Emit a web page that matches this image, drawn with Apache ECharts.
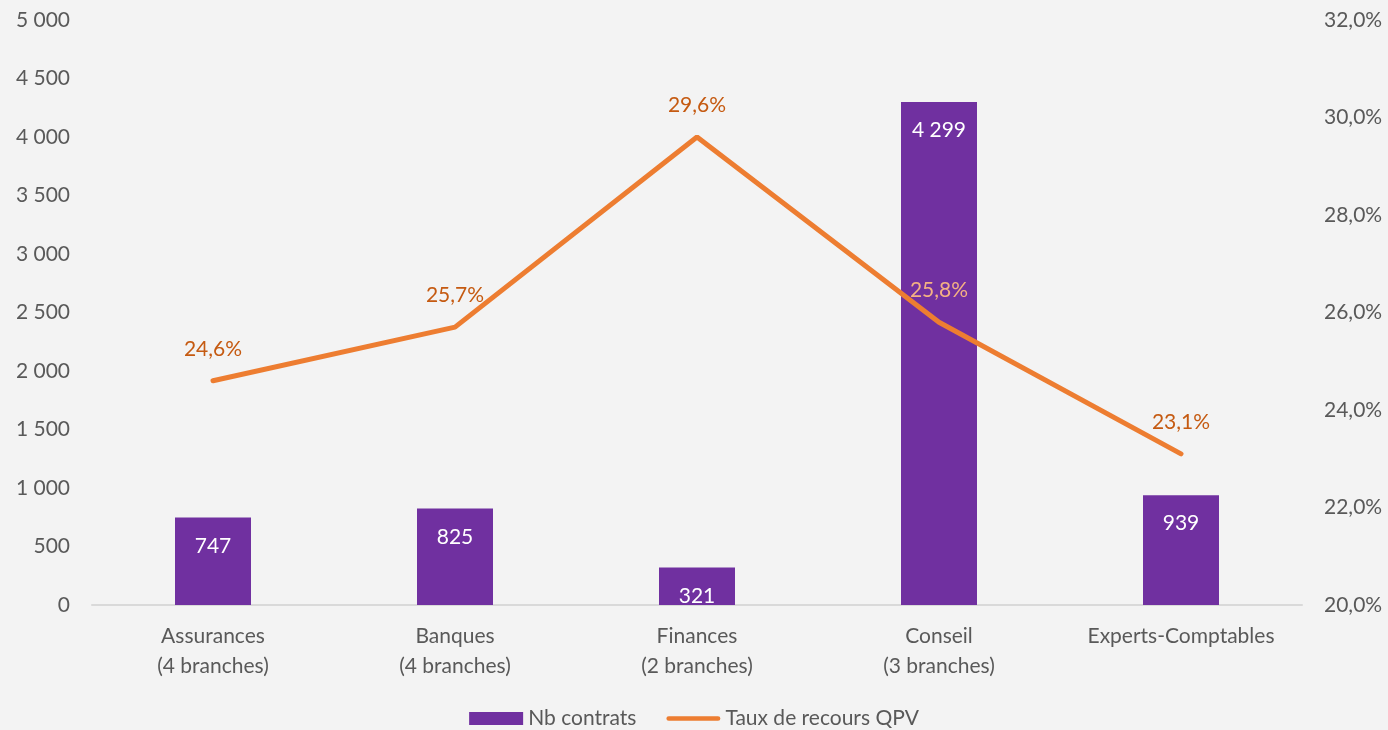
<!DOCTYPE html>
<html>
<head>
<meta charset="utf-8">
<script src="https://cdn.jsdelivr.net/npm/echarts@6/dist/echarts.min.js"></script>
<style>
  html, body { margin: 0; padding: 0; background: #f3f3f3; }
  #chart { width: 1388px; height: 730px; }
</style>
</head>
<body>
<div id="chart"></div>
<script>
const categories = ['Assurances\n(4 branches)', 'Banques\n(4 branches)', 'Finances\n(2 branches)', 'Conseil\n(3 branches)', 'Experts-Comptables']
const nbContrats = [747, 825, 321, 4299, 939]
const tauxQPV = [24.6, 25.7, 29.6, 25.8, 23.1]

const font = 'Lato, "Open Sans", sans-serif'
const fs = 21
const fmtNum = (v) => String(v).replace(/\B(?=(\d{3})+(?!\d))/g, ' ')
const fmtPct = (v) => v.toFixed(1).replace('.', ',') + '%'

// trait arrondi pour la légende de la courbe
const lineIcon = 'path://M0,0 L0.01,0 Z M2.5,4 L54.5,4 A2.5,2.5 0 0 1 54.5,9 L2.5,9 A2.5,2.5 0 0 1 2.5,4 Z M0,13 L0.01,13 Z'

const chart = echarts.init(document.getElementById('chart'))
chart.setOption({
  backgroundColor: '#f3f3f3',
  textStyle: { fontFamily: font },
  grid: { left: 92, right: 86, top: 20, bottom: 125 },
  legend: {
    bottom: -4,
    itemGap: 30,
    itemWidth: 54,
    itemHeight: 13,
    textStyle: { color: '#595959', fontSize: fs, fontFamily: font },
    data: [
      { name: 'Nb contrats', icon: 'rect' },
      { name: 'Taux de recours QPV', icon: lineIcon, itemStyle: { color: '#ed7d31', borderWidth: 0 } }
    ]
  },
  xAxis: {
    type: 'category',
    data: categories,
    axisLine: { lineStyle: { color: '#d9d9d9', width: 2 } },
    axisTick: { show: false },
    axisLabel: { color: '#595959', fontSize: fs, lineHeight: 30, margin: 16, interval: 0 }
  },
  yAxis: [
    {
      type: 'value', min: 0, max: 5000, interval: 500,
      splitLine: { show: false },
      axisLabel: { color: '#595959', fontSize: fs, margin: 22, formatter: fmtNum }
    },
    {
      type: 'value', min: 20, max: 32, interval: 2,
      splitLine: { show: false },
      axisLabel: { color: '#595959', fontSize: fs, margin: 22, formatter: (v) => fmtPct(v) }
    }
  ],
  series: [
    {
      name: 'Nb contrats',
      type: 'bar',
      barWidth: 76,
      itemStyle: { color: '#7030a0' },
      label: {
        show: true, position: 'insideTop', distance: 18,
        color: '#ffffff', fontSize: fs,
        formatter: (p) => fmtNum(p.value)
      },
      data: nbContrats
    },
    {
      name: 'Taux de recours QPV',
      type: 'line',
      yAxisIndex: 1,
      symbol: 'circle',
      symbolSize: 0.1,
      lineStyle: { color: '#ed7d31', width: 5, cap: 'round' },
      itemStyle: { color: '#ed7d31' },
      label: {
        show: true, position: 'top', distance: 21,
        color: '#c55a11', fontSize: fs,
        formatter: (p) => fmtPct(p.value)
      },
      data: tauxQPV.map((v, i) => i === 3
        ? { value: v, label: { color: '#f4b183' } }
        : v)
    }
  ]
})
</script>
</body>
</html>
